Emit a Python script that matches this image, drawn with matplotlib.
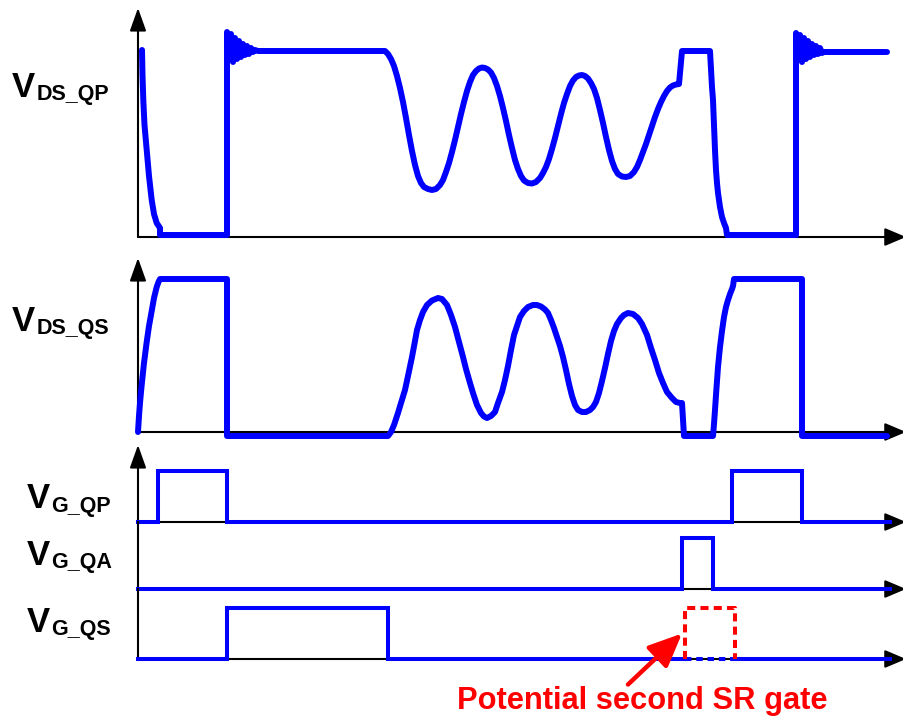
import matplotlib.pyplot as plt

W, H = 904, 717
BLUE = "#0000ff"

# drain-source voltages: time and level in arbitrary units
t_vds_qp = [4, 4.5, 5.3, 6.5, 8.7, 11, 13.7, 16, 18.7, 22, 22, 89,
            89, 91, 93, 95, 97, 99, 101, 103, 105, 107, 109, 111, 113, 115,
            117, 120, 247, 250, 253, 256, 259, 262, 265, 268, 271, 274, 277,
            280, 283, 286, 290, 294, 298, 302, 305, 308, 311, 314, 317, 320,
            323, 326, 329, 332, 335, 338, 341, 344, 347, 350, 353, 356, 359,
            362, 365, 368, 371, 374, 377, 380, 383, 386, 390, 394, 398, 402,
            405, 408, 411, 414, 417, 420, 423, 426, 429, 432, 435, 438, 441,
            444, 447, 450, 453, 456, 459, 462, 465, 468, 471, 474, 477, 480,
            484, 488, 492, 496, 499, 502, 505, 508, 511, 514, 517, 520, 523,
            526, 529, 532, 535, 538, 541, 544, 572, 573, 574, 575, 576, 577,
            578, 579, 580, 582, 584, 586, 588, 589, 658,
            658, 660, 662, 664, 666, 668, 670, 672, 674, 676, 678, 680, 682,
            684, 686, 749]
v_vds_qp = [187, 162, 137, 112, 87, 61, 37, 23, 14, 9, 2, 2,
            205, 180, 203, 175, 199, 178, 196, 180, 193, 182, 191, 183, 189,
            185, 187, 186, 186, 183, 178, 171, 161, 149, 135, 119, 102, 86,
            72, 61, 54, 50, 48, 47, 48, 52, 57, 65, 74, 85, 97, 110, 123, 135,
            146, 155, 162, 166, 168.5, 169.5, 169, 167.5, 164.5, 159, 151,
            141, 129, 116, 102, 89, 77, 68, 61, 56.5, 54, 53.5, 55, 59, 64,
            70, 78, 88, 99, 111, 123, 134, 143, 151, 156.5, 160, 161.5, 162,
            161, 158.5, 154, 148, 139, 127, 114, 100, 87, 76, 68, 63, 60.5,
            60, 61, 65, 70, 77, 85, 93, 102, 111, 120, 128, 135, 141, 146,
            149.5, 151.5, 152.5, 153, 186, 186, 168, 150, 137, 112, 87, 67,
            54, 44, 30, 20, 14, 9, 2, 2,
            204, 180, 202, 175, 199, 178, 196, 180, 193, 182, 191, 183, 189,
            184, 185, 185]

t_vds_qs = [0, 1, 2, 3, 4, 6, 8.7, 11, 13.7, 16, 18.7, 20.5, 22, 89, 89,
            250, 253, 256, 260, 263, 267, 270, 274, 277, 279, 282, 285, 289,
            294, 300, 304, 309, 313, 317, 321, 325, 328, 332, 335, 339, 343,
            346, 349, 353, 357, 360, 364, 367, 370, 373, 376, 379, 382, 386,
            390, 395, 399, 403, 407, 410, 413, 416, 419, 422, 425, 428, 431,
            434, 437, 440, 444, 448, 452, 455, 458, 461, 464, 467, 470, 473,
            476, 479, 483, 486, 490, 495, 500, 504, 509, 513, 517, 521, 525,
            529, 534, 538, 542, 544, 546, 575, 576, 577, 578, 579, 580, 582,
            584, 586, 588, 590, 592, 594, 595, 596, 664, 664, 749]
v_vds_qs = [0, 16, 29, 40, 50, 69, 90, 106, 121, 134, 145, 150, 153, 153, -4,
            -4, 0, 7, 19, 29, 42, 56, 75, 91, 102, 112, 120, 127, 131.5, 134,
            133, 127, 117, 105, 90, 75, 63, 49, 39, 27, 19, 15.5, 14, 16, 20,
            29, 40, 52, 66, 82, 97, 106, 115, 121, 125, 127, 127, 125.5,
            122.5, 119, 112, 104, 95, 86, 75, 62, 48, 36, 27, 22, 20, 20, 22,
            25, 30, 39, 51, 64, 78, 91, 101, 108, 114, 117, 119, 118, 114,
            108, 97, 84, 72, 59, 49, 40, 34, 30, 29, 29, -4, -4, 8, 22, 37,
            51, 65, 85, 101, 115, 125, 132, 138, 143, 146, 153, 153, -4, -4]

# gate signals: edge times and level after each edge
t_g_qp = [0, 20, 89, 594, 664, 752]
v_g_qp = [0, 1, 0, 1, 0, 0]
t_g_qa = [0, 544, 575, 752]
v_g_qa = [0, 1, 0, 0]
t_g_qs = [0, 89, 250, 547]
v_g_qs = [0, 1, 0, 0]
t_g_qs_tail = [597, 752]
t_sr2 = [547, 597]          # potential second SR gate window

# subscript text, then V and subscript anchor positions (pixels)
labels = [("DS_QP", 12, 97, 37, 100),
          ("DS_QS", 12, 331, 37, 334),
          ("G_QP", 27, 508, 51, 512),
          ("G_QA", 27, 565, 51, 568),
          ("G_QS", 27, 632, 51, 635)]

# panel layout in pixels: baseline, top of axis, y span, arrow on y axis
panels = [(237, 8, 229, True), (432, 258, 174, True),
          (522, 445, 77 / 51, True), (589, 522, 67 / 51, False),
          (659, 589, 70 / 51, False)]
X0, X1, T1 = 138, 906, 768

plt.rcParams["font.family"] = ["Liberation Sans", "DejaVu Sans"]
fig = plt.figure(figsize=(W / 100, H / 100), dpi=100)

axes = []
for base, top, yspan, arrow_up in panels:
    ax = fig.add_axes([X0 / W, 1 - base / H, (X1 - X0) / W, (base - top) / H])
    ax.set_xlim(0, T1)
    ax.set_ylim(0, yspan)
    ax.axis("off")
    ax.annotate("", xy=(1, 0), xytext=(0, 0), xycoords="axes fraction",
                arrowprops=dict(arrowstyle="-|>,head_length=1.3,head_width=0.55",
                                color="k", lw=1.5, mutation_scale=10,
                                shrinkA=0, shrinkB=0),
                annotation_clip=False, zorder=1)
    if arrow_up:
        ax.annotate("", xy=(0, 1), xytext=(0, 0), xycoords="axes fraction",
                    arrowprops=dict(arrowstyle="-|>,head_length=1.4,head_width=0.5",
                                    color="k", lw=1.5, mutation_scale=10,
                                    shrinkA=0, shrinkB=0),
                    annotation_clip=False, zorder=1)
    else:
        ax.plot([0, 0], [0, 1], color="k", lw=1.5, transform=ax.transAxes,
                clip_on=False, zorder=1)
    axes.append(ax)

ax1, ax2, ax3, ax4, ax5 = axes
kw = dict(color=BLUE, lw=4.3, clip_on=False, zorder=3,
          solid_joinstyle="round", solid_capstyle="round")
ax1.plot(t_vds_qp, v_vds_qp, **kw)
ax2.plot(t_vds_qs, v_vds_qs, **kw)

gkw = dict(color=BLUE, lw=2.9, clip_on=False, zorder=3,
           drawstyle="steps-post", solid_joinstyle="miter")
ax3.plot(t_g_qp, v_g_qp, **gkw)
ax4.plot(t_g_qa, v_g_qa, **gkw)
ax5.plot(t_g_qs, v_g_qs, **gkw)
ax5.plot(t_g_qs_tail, [0, 0], **gkw)
ax5.plot(t_sr2, [0, 0], color=BLUE, lw=2.9, dashes=(1.6, 1.2), clip_on=False,
         zorder=3)

# red dashed box for the potential second SR gate
ax5.plot([t_sr2[0], t_sr2[0], t_sr2[1], t_sr2[1]], [0, 1, 1, 0], color="red",
         lw=2.9, dashes=(2.0, 1.3), clip_on=False, zorder=4)
ax5.annotate("", xy=(t_sr2[0] - 3, 0.5), xytext=(t_sr2[0] - 57, -0.5),
             arrowprops=dict(arrowstyle="-|>,head_length=1.7,head_width=0.75",
                             color="red", lw=3.2, mutation_scale=12,
                             shrinkA=0, shrinkB=0),
             annotation_clip=False, zorder=4)
fig.text(457 / W, 1 - 709 / H, "Potential second SR gate", color="red",
         fontsize=22.2, fontweight="bold", ha="left", va="baseline")

for sub, xv, yv, xs, ys in labels:
    fig.text(xv / W, 1 - yv / H, "V", fontsize=25, fontweight="bold",
             ha="left", va="baseline")
    fig.text(xs / W, 1 - ys / H, sub, fontsize=15.5, fontweight="bold",
             ha="left", va="baseline")

fig.savefig("out.png", dpi=100)
